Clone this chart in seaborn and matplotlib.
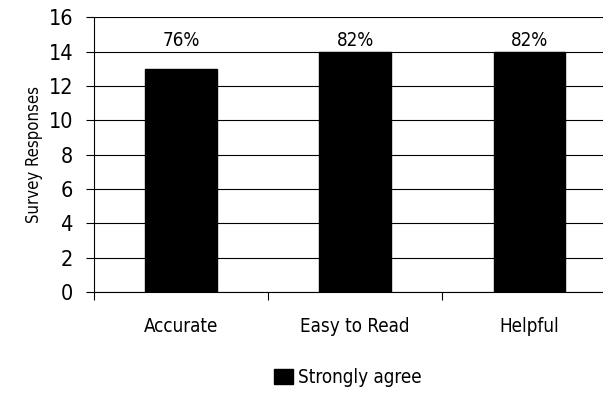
import pandas as pd
import matplotlib
matplotlib.use("Agg")
import matplotlib.pyplot as plt
import seaborn as sns

# chart data
categories = ["Accurate", "Easy to Read", "Helpful"]
responses = [13, 14, 14]
pct_labels = ["76%", "82%", "82%"]
series_name = "Strongly agree"

df = pd.DataFrame({"Category": categories, "Responses": responses, "Series": series_name})

sns.set_style("white")
plt.rcParams["font.family"] = ["DejaVu Sans"]
plt.rcParams["font.stretch"] = "condensed"
plt.rcParams["text.color"] = "black"
plt.rcParams["xtick.color"] = "black"
plt.rcParams["ytick.color"] = "black"
plt.rcParams["axes.labelcolor"] = "black"

fig = plt.figure(figsize=(6.03, 3.99), dpi=100)
ax = fig.add_axes([0.156, 0.268, 0.866, 0.689])

sns.barplot(data=df, x="Category", y="Responses", hue="Series", palette=["black"],
            width=0.41, edgecolor="black", ax=ax, zorder=3)

ax.set_ylim(0, 16)
ax.set_yticks(range(0, 17, 2))
ax.set_xlim(-0.5, 2.5)
ax.yaxis.grid(True, color="black", linewidth=0.8, zorder=0)
ax.xaxis.grid(False)
for s in ["top", "right"]:
    ax.spines[s].set_visible(False)
ax.spines["left"].set_color("black")
ax.spines["bottom"].set_color("black")
ax.spines["left"].set_linewidth(0.8)
ax.spines["bottom"].set_linewidth(0.8)

# ticks at the category boundaries
ax.set_xticks([-0.5, 0.5, 1.5, 2.5])
ax.set_xticklabels([])
ax.set_xticks(range(len(categories)), minor=True)
ax.set_xticklabels(categories, minor=True)
ax.tick_params(axis="x", which="major", bottom=True, direction="out", length=6, width=0.8)
ax.tick_params(axis="x", which="minor", bottom=False, length=0, pad=18, labelsize=13.5)
ax.tick_params(axis="y", left=True, direction="out", length=6, width=0.8, labelsize=15.5, pad=9)

ax.set_xlabel("")
ax.set_ylabel("Survey Responses", fontsize=12, labelpad=4)

# percent labels sit on a common line above the bars
for i, t in enumerate(pct_labels):
    ax.text(i, 14.1, t, ha="center", va="bottom", fontsize=13.5)

ax.legend(loc="center", bbox_to_anchor=(0.577, 0.053), bbox_transform=fig.transFigure,
          frameon=False, fontsize=13.5, handlelength=1.0, handleheight=0.85, handletextpad=0.3)

fig.savefig("out.png", dpi=100)
